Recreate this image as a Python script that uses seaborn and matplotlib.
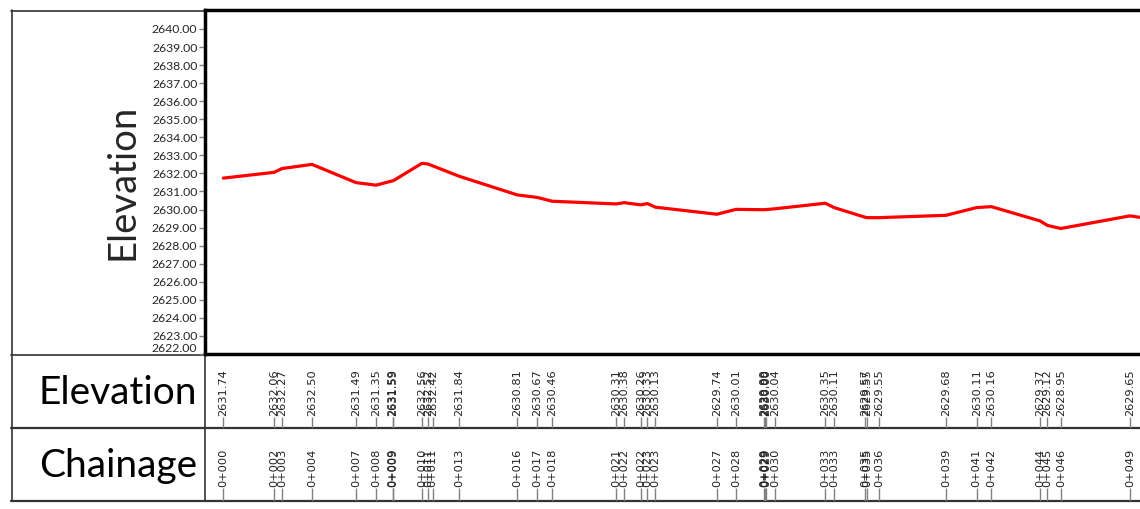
import matplotlib
matplotlib.use("Agg")
import matplotlib.pyplot as plt
import seaborn as sns
import pandas as pd

# profile points (chainage in m, elevation in m)
chainage = [0.00, 2.74, 3.17, 4.79, 7.17, 8.25, 9.14, 9.17, 10.73, 11.06,
            11.31, 12.75, 15.88, 16.96, 17.76, 21.22, 21.65, 22.55, 22.91, 23.34,
            26.66, 27.70, 29.21, 29.27, 29.33, 29.79, 32.52, 32.99, 34.68, 34.79,
            35.41, 39.04, 40.70, 41.49, 44.12, 44.52, 45.24, 48.98, 50.40]
elevation = [2631.74, 2632.06, 2632.27, 2632.50, 2631.49, 2631.35, 2631.59, 2631.59, 2632.56, 2632.52,
             2632.42, 2631.84, 2630.81, 2630.67, 2630.46, 2630.31, 2630.38, 2630.26, 2630.33, 2630.13,
             2629.74, 2630.01, 2629.99, 2630.00, 2630.00, 2630.04, 2630.35, 2630.11, 2629.57, 2629.55,
             2629.55, 2629.68, 2630.11, 2630.16, 2629.37, 2629.12, 2628.95, 2629.65, 2629.43]
chainage_labels = ["0+000", "0+002", "0+003", "0+004", "0+007", "0+008", "0+009", "0+009", "0+010", "0+011",
                   "0+011", "0+013", "0+016", "0+017", "0+018", "0+021", "0+022", "0+022", "0+023", "0+023",
                   "0+027", "0+028", "0+029", "0+029", "0+029", "0+030", "0+033", "0+033", "0+035", "0+035",
                   "0+036", "0+039", "0+041", "0+042", "0+044", "0+045", "0+046", "0+049", "0+050"]
elevation_ticks = list(range(2622, 2641))
row_titles = ["Elevation", "Chainage"]

sns.set_style("white")
plt.rcParams["font.family"] = ["Lato", "DejaVu Sans"]

W, H = 1140, 509
fig = plt.figure(figsize=(W / 100, H / 100), dpi=100)


def box(l, t, r, b):
    return [l / W, 1 - b / H, (r - l) / W, (b - t) / H]


# outer table frame, drawn in pixel space
frame = fig.add_axes([0, 0, 1, 1], zorder=0)
frame.set_xlim(0, W)
frame.set_ylim(H, 0)
frame.axis("off")
fc = "#333333"
frame.plot([11.5, 11.5], [10, 501], color=fc, lw=1.2)
frame.plot([11, 205], [10.5, 10.5], color=fc, lw=1.2)
frame.plot([11, 205], [354.5, 354.5], color=fc, lw=1.2)
frame.plot([11, W], [428, 428], color=fc, lw=1.6)
frame.plot([11, W], [501, 501], color=fc, lw=1.6)
frame.plot([205, 205], [354, 501], color=fc, lw=1.2)

# the drawing runs on past the right edge of the picture
xlim = (-0.99, 50.6)
ax = fig.add_axes(box(205, 10, 1160, 354), zorder=2)
ax_el = fig.add_axes(box(205, 354, 1160, 428), zorder=1)
ax_ch = fig.add_axes(box(205, 428, 1160, 501), zorder=1)
visible_max = xlim[0] + (xlim[1] - xlim[0]) * (W - 205) / (1160 - 205)

df = pd.DataFrame({"Chainage": chainage, "Elevation": elevation})
sns.lineplot(data=df, x="Chainage", y="Elevation", ax=ax, color="#ff0000",
             lw=2.3, estimator=None, sort=False)

ax.set_xlim(*xlim)
ax.set_ylim(2622, 2641.05)
ax.set_yticks(elevation_ticks)
ax.set_yticklabels([f"{v:.2f}" for v in elevation_ticks], fontsize=8.8)
ax.get_yticklabels()[0].set_va("bottom")
ax.tick_params(axis="y", left=True, length=4, width=1, color="#808080", pad=1.5)
ax.tick_params(axis="x", bottom=False, labelbottom=False)
ax.set_xlabel("")
ax.set_ylabel("Elevation", fontsize=27.5)
ax.yaxis.set_label_coords(-0.068, 0.5)
for s in ax.spines.values():
    s.set_linewidth(2.5)
    s.set_color("black")

# label rows under the profile
rows = [(ax_el, [f"{e:.2f}" for e in elevation], 0.15),
        (ax_ch, chainage_labels, 0.18)]
for a, labels, tick_h in rows:
    a.set_facecolor("none")
    a.axis("off")
    tr = a.get_xaxis_transform()
    a.vlines(chainage, 0, tick_h, color="#808080", lw=1, transform=tr)
    for c, lab in zip(chainage, labels):
        if c > visible_max:
            continue
        a.text(c, tick_h + 0.01, lab, rotation=90, ha="center", va="bottom",
               transform=tr, fontsize=8.2, family="DejaVu Sans", color="#222222")
    a.set_xlim(*xlim)
    a.set_ylim(0, 1)

for title, base in zip(row_titles, [404, 477]):
    frame.text(197, base, title, ha="right", va="baseline", fontsize=28, color="black")

fig.savefig("out.png", dpi=100)
